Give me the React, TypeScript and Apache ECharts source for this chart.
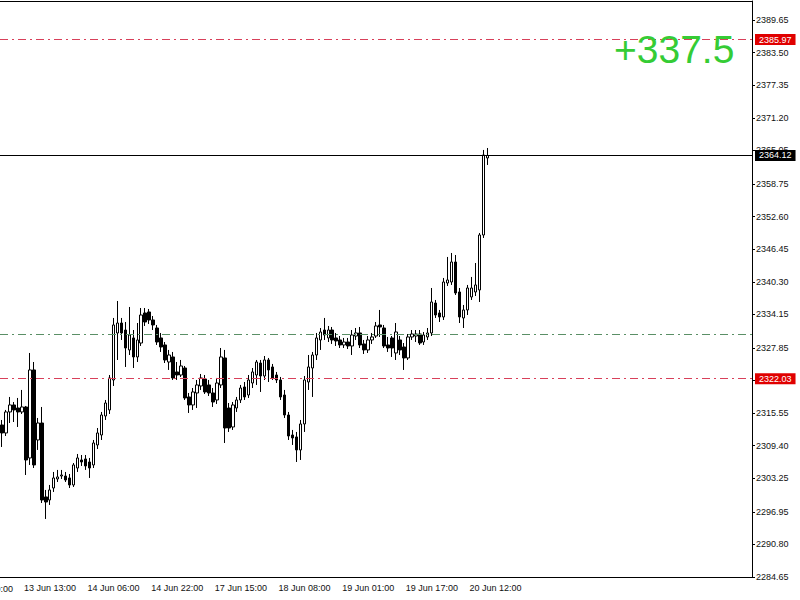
import React, { useEffect, useRef } from "react";
import * as echarts from "echarts";

// hourly candles, ECharts order: [open, close, low, high]
const candles: number[][] = [
  [2313.31, 2311.8, 2309.16, 2314.25],
  [2311.8, 2315.76, 2311.23, 2316.14],
  [2315.76, 2317.08, 2313.68, 2318.59],
  [2317.08, 2316.14, 2313.87, 2317.64],
  [2316.51, 2315.76, 2312.93, 2318.4],
  [2315.76, 2316.7, 2315.38, 2319.91],
  [2316.7, 2306.71, 2303.88, 2316.89],
  [2307.09, 2323.68, 2305.77, 2326.88],
  [2323.68, 2305.77, 2305.2, 2325.18],
  [2310.48, 2313.68, 2308.6, 2314.63],
  [2313.68, 2299.17, 2298.6, 2316.7],
  [2299.74, 2298.79, 2295.59, 2301.06],
  [2299.17, 2301.06, 2298.23, 2302.0],
  [2301.43, 2303.32, 2300.68, 2304.45],
  [2303.13, 2303.51, 2302.56, 2304.83],
  [2303.69, 2303.88, 2303.13, 2304.83],
  [2303.69, 2302.94, 2302.56, 2304.45],
  [2303.32, 2302.0, 2301.43, 2304.07],
  [2302.0, 2305.77, 2301.62, 2306.14],
  [2305.2, 2307.09, 2304.45, 2307.84],
  [2306.71, 2306.33, 2305.58, 2307.65],
  [2306.9, 2305.58, 2304.83, 2307.65],
  [2306.33, 2305.2, 2303.32, 2307.09],
  [2305.77, 2309.91, 2305.2, 2310.48],
  [2309.54, 2311.8, 2308.78, 2312.74],
  [2311.42, 2315.19, 2310.48, 2315.76],
  [2315.0, 2317.45, 2314.25, 2318.02],
  [2316.14, 2322.17, 2315.38, 2322.73],
  [2321.79, 2332.16, 2320.66, 2333.48],
  [2330.65, 2332.53, 2325.56, 2336.68],
  [2332.53, 2330.65, 2329.33, 2333.48],
  [2331.21, 2327.82, 2324.24, 2332.72],
  [2327.45, 2330.27, 2326.5, 2335.55],
  [2329.71, 2326.13, 2324.05, 2331.21],
  [2326.13, 2329.33, 2325.18, 2332.53],
  [2328.76, 2334.04, 2328.2, 2335.36],
  [2334.42, 2332.72, 2331.97, 2335.36],
  [2334.61, 2333.1, 2332.35, 2335.17],
  [2333.1, 2332.16, 2331.21, 2333.85],
  [2331.59, 2328.95, 2328.39, 2332.16],
  [2329.71, 2328.01, 2327.07, 2330.65],
  [2328.39, 2325.56, 2324.99, 2328.95],
  [2325.18, 2326.5, 2323.68, 2327.45],
  [2326.13, 2322.17, 2321.79, 2327.07],
  [2323.3, 2322.73, 2321.79, 2325.18],
  [2322.73, 2324.43, 2322.36, 2325.56],
  [2324.05, 2318.4, 2318.02, 2324.43],
  [2318.59, 2317.08, 2315.57, 2319.34],
  [2317.08, 2319.53, 2316.14, 2320.28],
  [2319.34, 2320.85, 2316.51, 2321.79],
  [2320.66, 2322.17, 2319.91, 2322.92],
  [2321.98, 2319.53, 2319.15, 2322.73],
  [2320.85, 2319.34, 2318.77, 2321.79],
  [2319.34, 2317.64, 2316.7, 2320.28],
  [2318.02, 2321.22, 2317.27, 2322.17],
  [2320.85, 2326.13, 2320.28, 2327.82],
  [2325.94, 2312.74, 2309.91, 2327.45],
  [2316.51, 2312.74, 2311.99, 2317.45],
  [2312.93, 2317.08, 2312.37, 2317.64],
  [2316.51, 2318.02, 2315.76, 2318.59],
  [2318.02, 2320.28, 2317.45, 2320.85],
  [2320.47, 2318.59, 2318.02, 2321.41],
  [2318.96, 2321.79, 2318.4, 2322.73],
  [2321.22, 2323.3, 2320.28, 2324.05],
  [2322.73, 2325.18, 2320.85, 2325.56],
  [2324.99, 2322.54, 2319.53, 2325.56],
  [2322.54, 2325.56, 2321.79, 2326.31],
  [2325.56, 2323.68, 2321.41, 2325.94],
  [2324.24, 2322.17, 2321.79, 2324.81],
  [2322.73, 2321.79, 2321.22, 2323.3],
  [2321.79, 2318.59, 2318.02, 2322.36],
  [2318.96, 2315.19, 2314.63, 2319.91],
  [2315.19, 2311.23, 2310.48, 2315.76],
  [2311.42, 2310.86, 2309.54, 2312.37],
  [2311.05, 2308.6, 2306.33, 2311.99],
  [2308.6, 2313.5, 2306.71, 2314.25],
  [2313.5, 2321.79, 2311.99, 2322.54],
  [2321.41, 2324.24, 2319.91, 2326.5],
  [2324.05, 2326.5, 2318.59, 2327.07],
  [2326.5, 2329.71, 2325.56, 2330.65],
  [2329.33, 2330.84, 2327.45, 2331.59],
  [2331.21, 2330.27, 2329.33, 2333.48],
  [2329.71, 2331.21, 2328.95, 2331.97],
  [2331.21, 2329.33, 2328.58, 2331.78],
  [2329.71, 2329.14, 2328.2, 2330.65],
  [2329.33, 2328.39, 2327.82, 2330.08],
  [2328.39, 2328.95, 2327.82, 2329.71],
  [2328.95, 2328.2, 2327.63, 2329.71],
  [2328.2, 2330.27, 2326.5, 2331.21],
  [2330.08, 2330.65, 2329.33, 2331.59],
  [2330.65, 2328.39, 2327.82, 2331.78],
  [2328.58, 2327.45, 2326.69, 2329.33],
  [2327.45, 2329.33, 2326.88, 2330.08],
  [2329.33, 2329.9, 2328.58, 2330.65],
  [2330.08, 2331.97, 2329.71, 2332.72],
  [2332.16, 2331.78, 2329.9, 2334.99],
  [2331.59, 2328.2, 2327.82, 2332.16],
  [2328.39, 2327.82, 2327.07, 2329.9],
  [2329.71, 2327.82, 2326.13, 2330.08],
  [2326.88, 2330.84, 2325.56, 2332.53],
  [2329.33, 2327.45, 2326.5, 2330.08],
  [2328.01, 2325.94, 2323.68, 2328.76],
  [2325.94, 2329.9, 2325.56, 2330.46],
  [2329.9, 2330.46, 2329.33, 2331.21],
  [2330.08, 2330.46, 2328.95, 2331.21],
  [2330.46, 2328.76, 2328.39, 2331.21],
  [2328.95, 2330.27, 2328.39, 2330.84],
  [2329.9, 2330.65, 2329.33, 2331.59],
  [2330.65, 2336.49, 2330.08, 2339.13],
  [2336.3, 2334.04, 2333.48, 2336.87],
  [2334.42, 2333.67, 2332.72, 2334.99],
  [2333.67, 2340.26, 2333.1, 2341.02],
  [2340.07, 2340.64, 2339.51, 2344.98],
  [2340.26, 2344.03, 2339.7, 2345.73],
  [2344.03, 2338.19, 2337.81, 2345.35],
  [2338.38, 2333.67, 2332.53, 2339.13],
  [2333.48, 2334.99, 2331.59, 2335.93],
  [2334.99, 2339.13, 2334.04, 2339.7],
  [2337.44, 2339.13, 2336.87, 2341.21],
  [2338.38, 2339.7, 2337.62, 2343.84],
  [2338.76, 2349.12, 2336.49, 2349.5],
  [2349.12, 2364.2, 2348.56, 2365.15],
  [2363.64, 2364.12, 2362.32, 2365.52],
];

// hour slots on the time axis, the empty right part included
const slotCount = 189;
const slots = Array.from({ length: slotCount }, (_, i) => String(i));

const timeTicks = [
  { index: 5, label: "13 Jun 13:00" },
  { index: 21, label: "14 Jun 06:00" },
  { index: 37, label: "14 Jun 22:00" },
  { index: 53, label: "17 Jun 15:00" },
  { index: 69, label: "18 Jun 08:00" },
  { index: 85, label: "19 Jun 01:00" },
  { index: 101, label: "19 Jun 17:00" },
  { index: 117, label: "20 Jun 12:00" },
];
// label of the tick just left of the window, only its tail shows
const cutTimeLabel = "12 Jun 20:00";

const priceTicks = [
  2389.65, 2383.5, 2377.35, 2371.2, 2365.05, 2358.75, 2352.6, 2346.45, 2340.3,
  2334.15, 2327.85, 2321.7, 2315.55, 2309.4, 2303.25, 2296.95, 2290.8, 2284.65,
];
const priceMin = 2284.65;
const priceMax = 2393.23;

const redLevels = [2385.97, 2322.03];
const bidLevel = 2364.12;
const greenLevel = 2330.46;
const profitText = "+337.5";

const FONT = "Liberation Sans";
const DASH_DOT = [8, 4, 2, 4];

const App = () => {
  const chartRef = useRef<HTMLDivElement>(null);

  useEffect(() => {
    if (!chartRef.current) return;
    const chart = echarts.init(chartRef.current, undefined, { renderer: "svg" });
    const tickSet = new Set(timeTicks.map((t) => t.index));
    const tickLabel = new Map(timeTicks.map((t) => [t.index, t.label]));

    const levelTag = (bg: string) => ({
      show: true,
      position: "end",
      distance: 3,
      formatter: (p: any) => p.value.toFixed(2),
      color: "#fff",
      backgroundColor: bg,
      fontFamily: FONT,
      fontSize: 9,
      lineHeight: 10,
      padding: [1, 4, 0, 4],
    });

    const options: any = {
      animation: false,
      grid: { left: 0, right: 48, top: 1, bottom: 23 },
      xAxis: [
        {
          type: "category",
          data: slots,
          boundaryGap: true,
          axisLine: { lineStyle: { color: "#000", width: 1 } },
          axisTick: {
            alignWithLabel: true,
            interval: (i: number) => tickSet.has(i),
            length: 4,
            lineStyle: { color: "#000" },
          },
          axisLabel: {
            interval: (i: number) => tickSet.has(i),
            formatter: (v: string) => tickLabel.get(Number(v)) ?? "",
            align: "left",
            padding: [0, 0, 0, 2],
            margin: 6,
            color: "#111",
            fontFamily: FONT,
            fontSize: 9,
          },
          splitLine: { show: false },
        },
        {
          type: "category",
          data: slots,
          position: "top",
          axisLine: { lineStyle: { color: "#000", width: 1 } },
          axisTick: { show: false },
          axisLabel: { show: false },
        },
      ],
      yAxis: {
        type: "value",
        position: "right",
        min: priceMin,
        max: priceMax,
        axisLine: { show: true, lineStyle: { color: "#000" } },
        axisTick: {
          show: true,
          customValues: priceTicks,
          length: 3,
          lineStyle: { color: "#000" },
        },
        axisLabel: {
          customValues: priceTicks,
          formatter: (v: number) => v.toFixed(2),
          margin: 4,
          color: "#111",
          fontFamily: FONT,
          fontSize: 9,
        },
        splitLine: { show: false },
      },
      series: [
        {
          type: "candlestick",
          xAxisIndex: 0,
          data: candles,
          barWidth: 3,
          itemStyle: {
            color: "#fff",
            color0: "#000",
            borderColor: "#000",
            borderColor0: "#000",
            borderWidth: 1,
          },
          markLine: {
            silent: true,
            symbol: "none",
            z: 10,
            data: [
              ...redLevels.map((v) => ({
                yAxis: v,
                lineStyle: { color: "#d8405a", type: DASH_DOT, width: 1 },
                label: levelTag("#e00000"),
              })),
              {
                yAxis: greenLevel,
                lineStyle: { color: "#5a8f66", type: DASH_DOT, width: 1 },
                label: { show: false },
              },
              {
                yAxis: bidLevel,
                lineStyle: { color: "#000", type: "solid", width: 1 },
                label: levelTag("#000"),
              },
            ],
          },
        },
      ],
      graphic: [
        {
          type: "text",
          x: 614,
          y: 49,
          z: 20,
          style: {
            text: profitText,
            fill: "#35cc35",
            fontFamily: FONT,
            fontSize: 39,
            verticalAlign: "middle",
          },
        },
        {
          type: "text",
          x: -39,
          y: 589,
          style: {
            text: cutTimeLabel,
            fill: "#111",
            fontFamily: FONT,
            fontSize: 9,
            verticalAlign: "middle",
          },
        },
      ],
    };
    chart.setOption(options);
    return () => {
      chart.dispose();
    };
  }, []);

  return (
    <div
      ref={chartRef}
      style={{ position: "fixed", left: 0, top: 0, width: 800, height: 600, background: "#fff" }}
    />
  );
};

export default App;
